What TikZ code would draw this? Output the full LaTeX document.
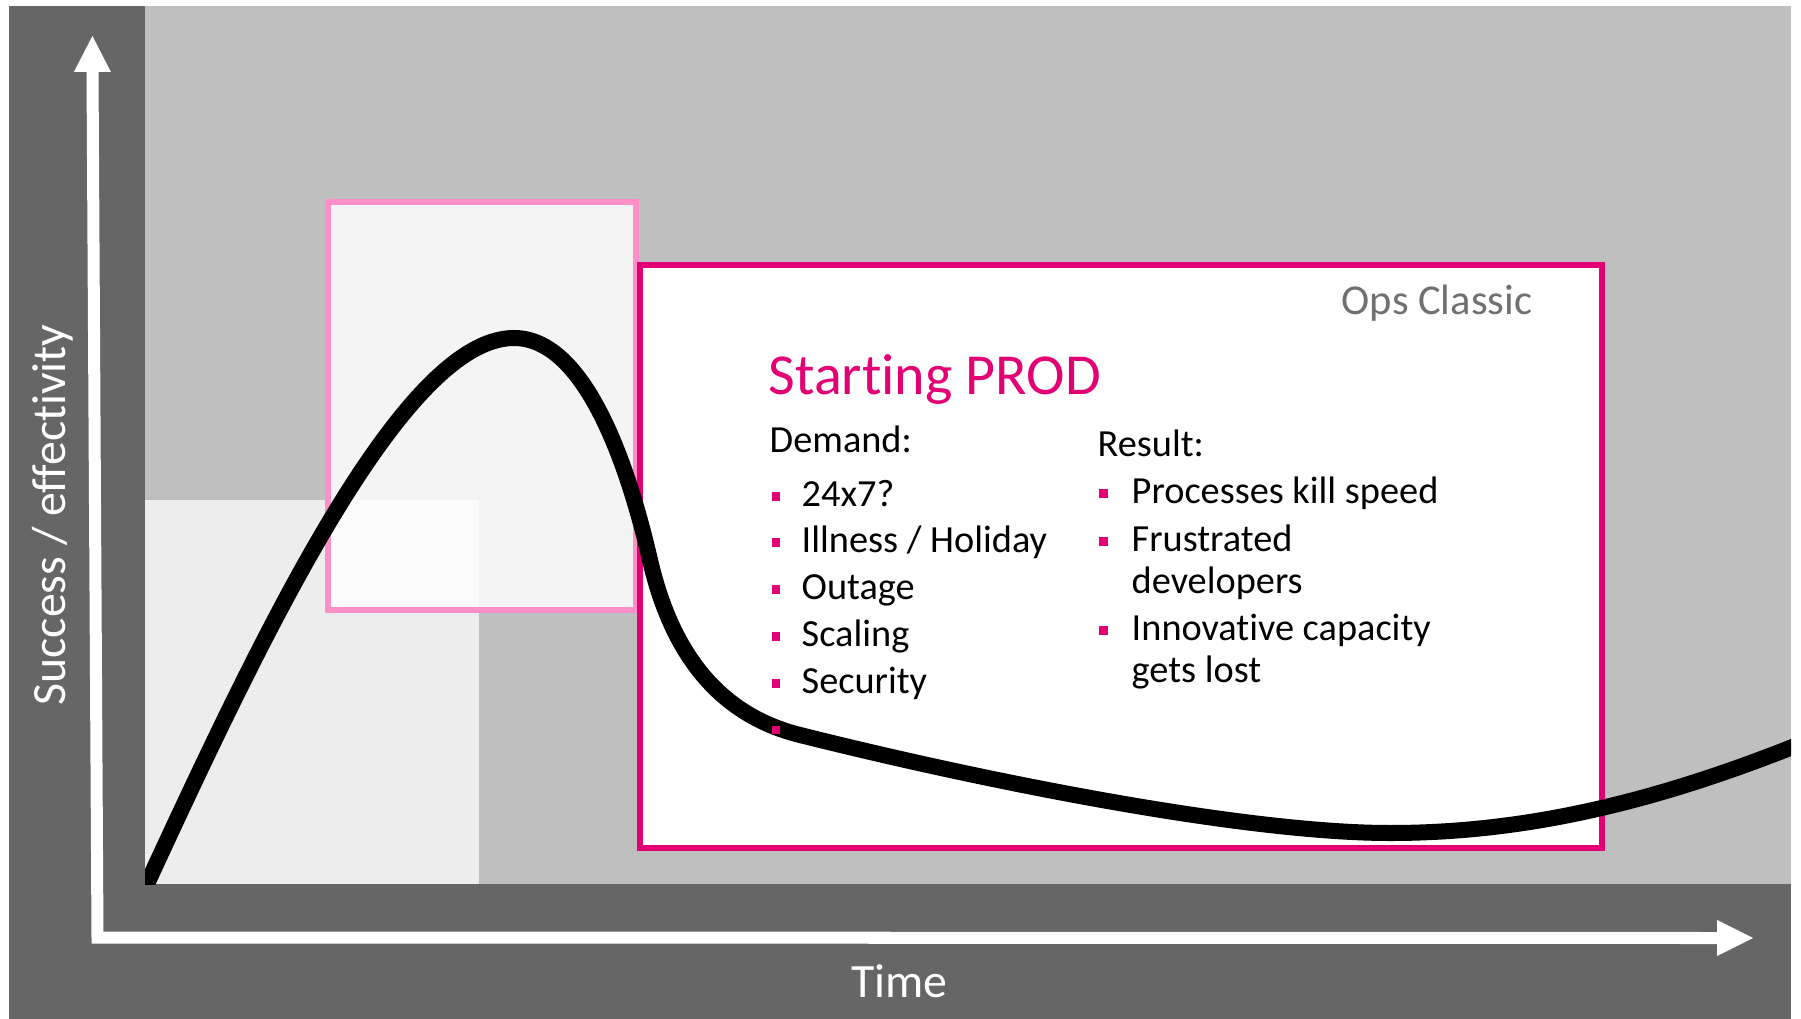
\documentclass[tikz,border=0pt]{standalone}
\usepackage{fontspec}
\setmainfont{Carlito}[Ligatures={NoCommon,NoContextual}, RawFeature={-liga;-clig;-dlig}]
\definecolor{darkbg}{HTML}{666666}
\definecolor{midbg}{HTML}{BFBFBF}
\definecolor{lightbg}{HTML}{EDEDED}
\definecolor{mag}{HTML}{E20074}
\definecolor{lpink}{HTML}{FF8FC8}
\definecolor{opsgray}{HTML}{707070}
\begin{document}
\begin{tikzpicture}[x=0.01cm,y=-0.01cm,
  curve/.style={line width=0.16cm, black, line cap=butt},
  axisline/.style={white, line width=0.12cm, line join=miter},
  bodytxt/.style={anchor=base west, inner sep=0pt, font=\fontsize{10.9pt}{13pt}\selectfont, text=black},
  bul/.style={rectangle, fill=mag, draw=none, inner sep=0pt, minimum size=0.083cm},
  axislabel/.style={anchor=base, inner sep=0pt, text=white, font=\fontsize{13.6pt}{16pt}\selectfont}]
\useasboundingbox (0,0) rectangle (1801,1019);
\fill[white] (0,0) rectangle (1801,1019);
% backgrounds
\fill[darkbg] (9,6) rectangle (1791,1019);
\fill[midbg] (145,6) rectangle (1791,884);
\fill[lightbg] (145,500) rectangle (479,884);
% pink box
\draw[lpink, line width=0.06cm, fill=white, fill opacity=0.83] (327.5,202.5) rectangle (636,610);
% magenta box
\draw[mag, line width=0.06cm, fill=white] (640,265.5) rectangle (1602,847.5);
% curve
\begin{scope}
\clip (145,6) rectangle (1791,884);
\draw[curve] (140,899) .. controls (255,650) and (400,338) .. (514,338)
  .. controls (585,338) and (628,465) .. (650,560)
  .. controls (672,655) and (720,715) .. (800,735)
  .. controls (1000,785) and (1250,833) .. (1390,833)
  .. controls (1530,833) and (1660,800) .. (1800,744);
\end{scope}
% axes
\coordinate (ytip) at (92.4,36);
\coordinate (ybase) at (92.5,70);
\coordinate (orig) at (97.5,937.5);
\coordinate (xbase) at (1719,938);
\coordinate (xtip) at (1753,938);
\draw[axisline] (ybase) -- (orig) -- (xbase);
\fill[white] (ytip) -- ++(-18.5,36) -- ++(37,0) -- cycle;
\fill[white] (xtip) -- ++(-36,-18) -- ++(0,36) -- cycle;
\node[axislabel, rotate=90] (ylab) at (65,515) {Success / effectivity};
\node[axislabel] (xlab) at (899.5,997) {Time};
% texts
\node[anchor=base west, inner sep=0pt, text=opsgray, font=\fontsize{12.1pt}{14pt}\selectfont] (ops) at (1341,315) {Ops Classic};
\node[anchor=base west, inner sep=0pt, text=mag, font=\fontsize{16.5pt}{19pt}\selectfont] (title) at (768,395) {Starting PROD};
\node[bodytxt] (demand) at (769,453) {Demand:};
\node[bodytxt] (d1) at (801,506) {24x7?};
\node[bodytxt] (d2) at (801,552) {Illness / Holiday};
\node[bodytxt] (d3) at (801,599) {Outage};
\node[bodytxt] (d4) at (801,646) {Scaling};
\node[bodytxt] (d5) at (801,693) {Security};
\node[bul] (bd1) at (776,496.5) {};
\node[bul] (bd2) at (776,542.5) {};
\node[bul] (bd3) at (776,589.5) {};
\node[bul] (bd4) at (776,636.5) {};
\node[bul] (bd5) at (776,683.5) {};
\node[bul] (bd6) at (776,730) {};
\node[bodytxt] (result) at (1097,457) {Result:};
\node[bodytxt] (r1) at (1131,503) {Processes kill speed};
\node[bodytxt] (r2) at (1131,551) {Frustrated};
\node[bodytxt] (r2b) at (1131,593) {developers};
\node[bodytxt] (r3) at (1131,640) {Innovative capacity};
\node[bodytxt] (r3b) at (1131,682) {gets lost};
\node[bul] (br1) at (1103.5,493.5) {};
\node[bul] (br2) at (1103.5,541.5) {};
\node[bul] (br3) at (1103.5,630.5) {};
\end{tikzpicture}
\end{document}
